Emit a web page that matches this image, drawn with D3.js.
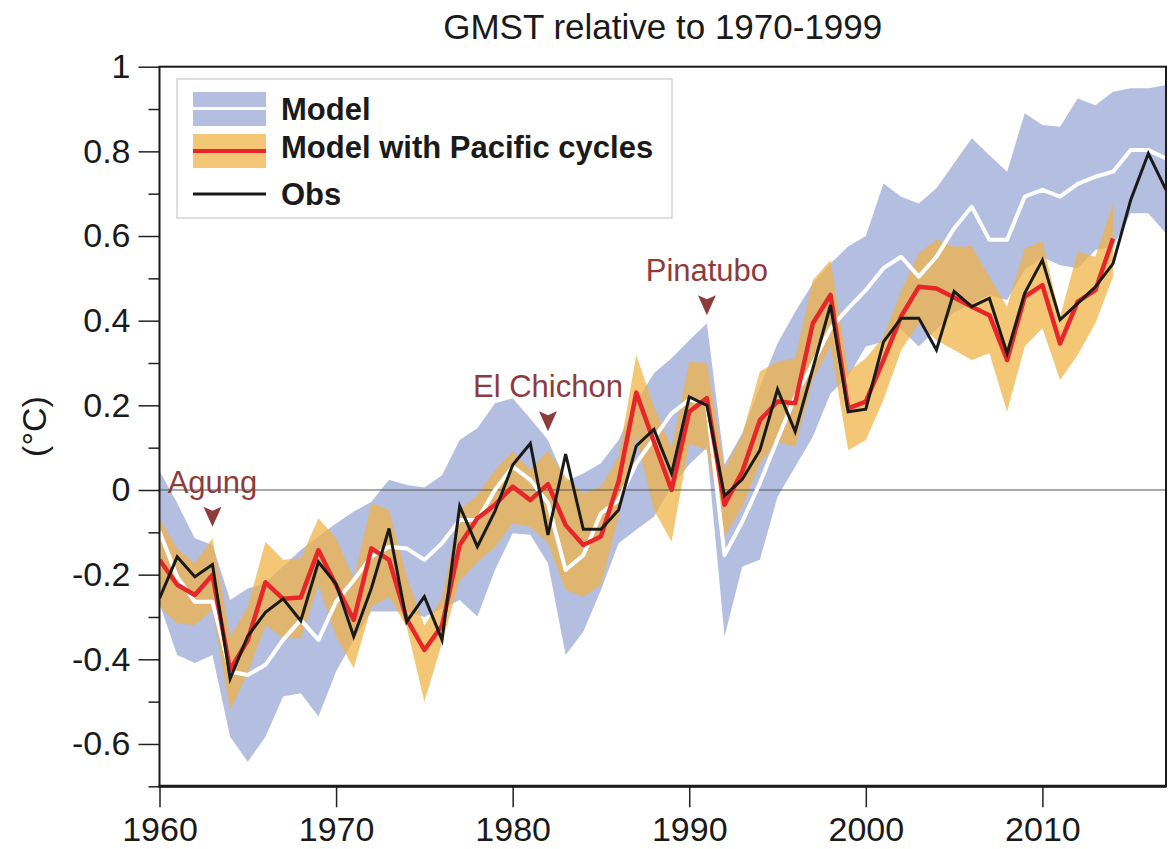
<!DOCTYPE html>
<html>
<head>
<meta charset="utf-8">
<script src="https://cdn.jsdelivr.net/npm/d3@7"></script>
<style>
  body { margin: 0; background: #fff; }
  svg { display: block; font-family: 'Liberation Sans', Arial, Helvetica, sans-serif; }
</style>
</head>
<body>
<svg id="chart" width="1168" height="849"></svg>
<script>
const firstYear = 1960;
const lastYear = 2017;
const years = d3.range(firstYear, lastYear + 1);

// model ensemble range (blue) and mean (white), 1960-2017
const modelHi = [0.045, -0.031, -0.114, -0.130, -0.260, -0.233, -0.220, -0.180, -0.142, -0.110,
  -0.079, -0.051, -0.028, 0.024, 0.012, 0.006, 0.035, 0.118, 0.146, 0.205,
  0.217, 0.169, 0.118, 0.020, 0.039, 0.063, 0.118, 0.209, 0.276, 0.311,
  0.354, 0.394, 0.060, 0.134, 0.244, 0.346, 0.421, 0.488, 0.535, 0.575,
  0.600, 0.724, 0.693, 0.677, 0.713, 0.772, 0.831, 0.791, 0.752, 0.890,
  0.862, 0.858, 0.925, 0.909, 0.941, 0.949, 0.949, 0.957];
const modelLo = [-0.268, -0.390, -0.409, -0.390, -0.583, -0.642, -0.583, -0.488, -0.480, -0.535,
  -0.429, -0.354, -0.287, -0.287, -0.287, -0.300, -0.280, -0.260, -0.299, -0.189,
  -0.102, -0.106, -0.173, -0.390, -0.335, -0.236, -0.126, -0.094, -0.063, 0.008,
  0.060, 0.100, -0.346, -0.181, -0.165, -0.016, 0.055, 0.126, 0.228, 0.268,
  0.339, 0.350, 0.380, 0.339, 0.380, 0.420, 0.440, 0.460, 0.449, 0.520,
  0.550, 0.531, 0.524, 0.567, 0.575, 0.654, 0.654, 0.606];
const modelMean = [-0.098, -0.205, -0.264, -0.264, -0.429, -0.437, -0.413, -0.354, -0.307, -0.354,
  -0.264, -0.213, -0.157, -0.134, -0.138, -0.165, -0.126, -0.071, -0.071, 0.000,
  0.055, 0.024, -0.031, -0.189, -0.154, -0.055, -0.024, 0.063, 0.122, 0.181,
  0.213, 0.205, -0.154, -0.075, 0.016, 0.120, 0.220, 0.299, 0.382, 0.429,
  0.472, 0.524, 0.551, 0.504, 0.551, 0.618, 0.669, 0.591, 0.591, 0.693,
  0.709, 0.693, 0.723, 0.740, 0.752, 0.803, 0.803, 0.783];

// model with Pacific cycles (orange range, red mean), 1960-2014
const pacHi = [-0.067, -0.138, -0.173, -0.114, -0.346, -0.276, -0.122, -0.165, -0.161, -0.067,
  -0.114, -0.210, -0.031, -0.047, -0.205, -0.320, -0.256, -0.047, -0.012, 0.047,
  0.091, 0.047, 0.094, 0.031, -0.008, 0.008, 0.079, 0.319, 0.197, 0.100,
  0.303, 0.300, 0.051, 0.130, 0.280, 0.303, 0.311, 0.496, 0.543, 0.280,
  0.311, 0.362, 0.470, 0.559, 0.591, 0.575, 0.575, 0.504, 0.433, 0.571,
  0.587, 0.409, 0.563, 0.551, 0.677];
const pacLo = [-0.276, -0.315, -0.319, -0.283, -0.520, -0.433, -0.319, -0.350, -0.350, -0.224,
  -0.346, -0.421, -0.276, -0.252, -0.323, -0.500, -0.362, -0.213, -0.170, -0.134,
  -0.079, -0.087, -0.126, -0.236, -0.252, -0.224, -0.063, 0.126, -0.047, -0.122,
  0.110, 0.094, -0.110, -0.039, 0.063, 0.114, 0.102, 0.260, 0.340, 0.094,
  0.118, 0.213, 0.330, 0.394, 0.354, 0.331, 0.307, 0.323, 0.185, 0.339,
  0.382, 0.260, 0.319, 0.394, 0.504];
const pacMean = [-0.165, -0.224, -0.248, -0.201, -0.425, -0.355, -0.218, -0.257, -0.254, -0.142,
  -0.225, -0.307, -0.138, -0.165, -0.305, -0.378, -0.320, -0.130, -0.067, -0.035,
  0.008, -0.024, 0.014, -0.083, -0.130, -0.110, 0.020, 0.230, 0.114, 0.000,
  0.185, 0.217, -0.035, 0.043, 0.165, 0.209, 0.205, 0.394, 0.461, 0.193,
  0.209, 0.307, 0.410, 0.480, 0.476, 0.455, 0.433, 0.413, 0.307, 0.457,
  0.484, 0.346, 0.445, 0.472, 0.594];

// observations, 1960-2017
const obs = [-0.256, -0.158, -0.205, -0.176, -0.446, -0.345, -0.289, -0.257, -0.309, -0.170,
  -0.222, -0.346, -0.232, -0.091, -0.311, -0.252, -0.354, -0.038, -0.134, -0.050,
  0.059, 0.110, -0.106, 0.085, -0.093, -0.093, -0.047, 0.104, 0.143, 0.039,
  0.220, 0.200, -0.014, 0.025, 0.094, 0.238, 0.138, 0.287, 0.437, 0.185,
  0.191, 0.350, 0.406, 0.406, 0.331, 0.469, 0.433, 0.453, 0.323, 0.465,
  0.543, 0.402, 0.441, 0.480, 0.535, 0.685, 0.795, 0.709];

// volcanic eruptions: year and value of the marker tip
const volcanoes = [
  { name: 'Agung', year: 1963, v: -0.087 },
  { name: 'El Chichon', year: 1982, v: 0.139 },
  { name: 'Pinatubo', year: 1991, v: 0.413 }
];

const yMajor = [-0.6, -0.4, -0.2, 0, 0.2, 0.4, 0.6, 0.8, 1];
const yMinor = [-0.7, -0.5, -0.3, -0.1, 0.1, 0.3, 0.5, 0.7, 0.9];
const xMajor = [1960, 1970, 1980, 1990, 2000, 2010];

const colors = {
  model: '#b4bee0',
  pacific: 'rgb(240,178,66)',
  red: '#e8262a',
  obs: '#1a1a1a',
  note: '#8e3b3b'
};

const margin = { top: 66.7, right: 2, bottom: 62.7, left: 159.5 };
const W = 1168, H = 849;

const x = d3.scaleLinear().domain([firstYear, lastYear]).range([margin.left, W - margin.right]);
const y = d3.scaleLinear().domain([-0.7, 1]).range([H - margin.bottom, margin.top]);

const svg = d3.select('#chart');

const band = (hi, lo) => d3.area()
  .x((d, i) => x(years[i]))
  .y0((d, i) => y(lo[i]))
  .y1((d, i) => y(hi[i]));
const line = (vals) => d3.line()
  .x((d, i) => x(years[i]))
  .y((d) => y(d))(vals);

const plot = svg.append('g');
plot.append('defs').append('clipPath').attr('id', 'clip')
  .append('rect')
    .attr('x', x(firstYear)).attr('y', y(1))
    .attr('width', x(lastYear) - x(firstYear))
    .attr('height', y(-0.7) - y(1));
const inner = plot.append('g').attr('clip-path', 'url(#clip)');

// bands
inner.append('path')
  .attr('d', band(modelHi, modelLo)(modelHi))
  .attr('fill', colors.model);
inner.append('path')
  .attr('d', band(pacHi, pacLo)(pacHi))
  .attr('fill', colors.pacific)
  .attr('fill-opacity', 0.72);

// zero line
inner.append('line')
  .attr('x1', x(firstYear)).attr('x2', x(lastYear))
  .attr('y1', y(0)).attr('y2', y(0))
  .attr('stroke', '#555').attr('stroke-width', 1);

// lines
inner.append('path').attr('d', line(modelMean))
  .attr('fill', 'none').attr('stroke', '#fff').attr('stroke-width', 4).attr('stroke-linejoin', 'round');
inner.append('path').attr('d', line(pacMean))
  .attr('fill', 'none').attr('stroke', colors.red).attr('stroke-width', 4.5).attr('stroke-linejoin', 'round');
inner.append('path').attr('d', line(obs))
  .attr('fill', 'none').attr('stroke', colors.obs).attr('stroke-width', 3).attr('stroke-linejoin', 'miter');

// volcano markers
const notes = svg.append('g').selectAll('g.note')
  .data(volcanoes)
  .enter()
  .append('g')
    .attr('class', 'note')
    .attr('transform', (d) => `translate(${x(d.year)},${y(d.v)})`);
notes.append('path')
  .attr('d', 'M-9,-20 L0,-16 L9,-20 L0,0 Z')
  .attr('fill', colors.note);
notes.append('text')
  .attr('y', -34)
  .attr('text-anchor', 'middle')
  .attr('fill', colors.note)
  .style('font-size', '31px')
  .text((d) => d.name);

// axes
const fmt = (d) => String(+d.toFixed(1));
svg.append('g')
  .attr('transform', `translate(${margin.left},0)`)
  .call(d3.axisLeft(y).tickValues(yMajor).tickFormat(fmt).tickSize(21).tickPadding(8));
svg.append('g')
  .attr('transform', `translate(${margin.left},0)`)
  .call(d3.axisLeft(y).tickValues(yMinor).tickFormat('').tickSize(11))
  .call((g) => g.select('.domain').remove());
svg.append('g')
  .attr('transform', `translate(0,${H - margin.bottom})`)
  .call(d3.axisBottom(x).tickValues(xMajor).tickFormat(d3.format('d')).tickSize(21).tickPadding(10));

svg.selectAll('.tick line').attr('stroke', '#222').attr('stroke-width', 1.5);
svg.selectAll('.tick text').attr('fill', '#1a1a1a').style('font-size', '34px').style('font-family', null);
svg.selectAll('.domain').attr('stroke', 'none');

// frame
svg.append('rect')
  .attr('x', x(firstYear)).attr('y', y(1))
  .attr('width', x(lastYear) - x(firstYear))
  .attr('height', y(-0.7) - y(1))
  .attr('fill', 'none')
  .attr('stroke', '#1a1a1a')
  .attr('stroke-width', 2);
svg.append('line')
  .attr('x1', x(firstYear) - 1).attr('x2', x(lastYear))
  .attr('y1', y(-0.7)).attr('y2', y(-0.7))
  .attr('stroke', '#1a1a1a').attr('stroke-width', 3);

// title and y label
svg.append('text')
  .attr('x', (x(firstYear) + x(lastYear)) / 2)
  .attr('y', 39)
  .attr('text-anchor', 'middle')
  .attr('fill', '#1a1a1a')
  .style('font-size', '35px')
  .text('GMST relative to 1970-1999');
svg.append('text')
  .attr('transform', `translate(46,${(y(1) + y(-0.7)) / 2}) rotate(-90)`)
  .attr('text-anchor', 'middle')
  .attr('fill', '#1a1a1a')
  .style('font-size', '34px')
  .text('(°C)');

// legend
const legend = svg.append('g').attr('transform', 'translate(177,79)');
legend.append('rect')
  .attr('width', 495).attr('height', 139)
  .attr('fill', '#fff').attr('stroke', '#c8cad6').attr('stroke-width', 1.2);
const sw = { x: 16, w: 73 };
legend.append('rect').attr('x', sw.x).attr('y', 13).attr('width', sw.w).attr('height', 34).attr('fill', colors.model);
legend.append('line').attr('x1', sw.x).attr('x2', sw.x + sw.w).attr('y1', 29.5).attr('y2', 29.5)
  .attr('stroke', '#fff').attr('stroke-width', 3);
legend.append('rect').attr('x', sw.x).attr('y', 55).attr('width', sw.w).attr('height', 34)
  .attr('fill', colors.pacific).attr('fill-opacity', 0.72);
legend.append('line').attr('x1', sw.x).attr('x2', sw.x + sw.w).attr('y1', 72).attr('y2', 72)
  .attr('stroke', colors.red).attr('stroke-width', 4);
legend.append('line').attr('x1', sw.x).attr('x2', sw.x + sw.w).attr('y1', 115).attr('y2', 115)
  .attr('stroke', colors.obs).attr('stroke-width', 3);
legend.selectAll('text.item')
  .data(['Model', 'Model with Pacific cycles', 'Obs'])
  .enter()
  .append('text')
    .attr('class', 'item')
    .attr('x', 104)
    .attr('y', (d, i) => [41, 79, 126][i])
    .attr('fill', '#1a1a1a')
    .style('font-size', '31px')
    .style('font-weight', 'bold')
    .text((d) => d);
</script>
</body>
</html>
